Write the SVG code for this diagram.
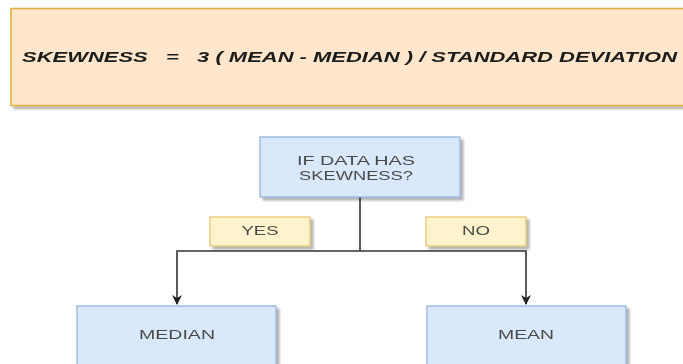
<svg xmlns="http://www.w3.org/2000/svg" width="683" height="364" viewBox="0 0 683 364">
  <defs>
    <filter id="shadow" x="-10%" y="-10%" width="130%" height="140%">
      <feGaussianBlur in="SourceAlpha" stdDeviation="1.2"/>
      <feOffset dx="3" dy="3" result="off"/>
      <feComponentTransfer><feFuncA type="linear" slope="0.3"/></feComponentTransfer>
      <feMerge><feMergeNode/><feMergeNode in="SourceGraphic"/></feMerge>
    </filter>
    <marker id="arrow" viewBox="0 0 10 10" refX="9" refY="5" markerWidth="10" markerHeight="10" markerUnits="userSpaceOnUse" orient="auto">
      <path d="M0,0 L10,5 L0,10 L3,5 Z" fill="#222"/>
    </marker>
    <style>
      .formula { fill: #ffe6cc; stroke: #e0ad3a; stroke-width: 1.5; }
      .blue { fill: #dae8fc; stroke: #8faedb; stroke-width: 1.2; }
      .tag { fill: #fff2cc; stroke: #e6c36a; stroke-width: 1.2; }
      .t { font-family: "Liberation Sans", Arial, sans-serif; font-size: 12px; fill: #4a4a4a; text-anchor: middle; }
      .d { font-size: 13px; }
      .f { font-family: "Liberation Sans", Arial, sans-serif; font-size: 15px; font-weight: bold; font-style: italic; fill: #1a1a1a; }
      .edge { fill: none; stroke: #333; stroke-width: 1.6; }
    </style>
  </defs>
  <rect width="683" height="364" fill="#ffffff"/>

  <g id="formula" filter="url(#shadow)">
    <rect class="formula" x="11" y="8.5" width="690" height="97"/>
    <text class="f" x="22" y="62" textLength="655" lengthAdjust="spacingAndGlyphs" xml:space="preserve">SKEWNESS   =   3 ( MEAN - MEDIAN ) / STANDARD DEVIATION</text>
  </g>

  <g id="connectors">
    <path class="edge" d="M360,197 V251"/>
    <path class="edge" d="M360,251 H177 V304" marker-end="url(#arrow)"/>
    <path class="edge" d="M360,251 H526 V304" marker-end="url(#arrow)"/>
  </g>

  <g id="decision" filter="url(#shadow)">
    <rect class="blue" x="260" y="137" width="200" height="60"/>
    <text class="t d" x="356" y="165" textLength="118" lengthAdjust="spacingAndGlyphs">IF DATA HAS</text>
    <text class="t d" x="356" y="180" textLength="114" lengthAdjust="spacingAndGlyphs">SKEWNESS?</text>
  </g>

  <g id="yes" filter="url(#shadow)">
    <rect class="tag" x="210" y="217" width="100" height="29"/>
    <text class="t" x="260" y="235" textLength="37" lengthAdjust="spacingAndGlyphs">YES</text>
  </g>

  <g id="no" filter="url(#shadow)">
    <rect class="tag" x="426" y="217" width="100" height="29"/>
    <text class="t" x="476" y="235" textLength="28" lengthAdjust="spacingAndGlyphs">NO</text>
  </g>

  <g id="median" filter="url(#shadow)">
    <rect class="blue" x="77" y="306" width="199" height="70"/>
    <text class="t" x="177" y="339" textLength="76" lengthAdjust="spacingAndGlyphs">MEDIAN</text>
  </g>

  <g id="mean" filter="url(#shadow)">
    <rect class="blue" x="427" y="306" width="199" height="70"/>
    <text class="t" x="526" y="339" textLength="56" lengthAdjust="spacingAndGlyphs">MEAN</text>
  </g>
</svg>
